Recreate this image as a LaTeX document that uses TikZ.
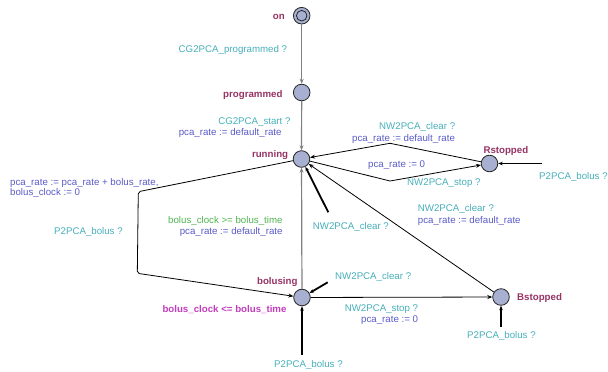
\documentclass[tikz,border=0pt]{standalone}
\usepackage{fontspec}
\setmainfont{Liberation Sans}
\usetikzlibrary{arrows.meta}
\definecolor{locfill}{RGB}{168,176,210}
\definecolor{locname}{RGB}{150,50,100}
\definecolor{synccol}{RGB}{70,175,185}
\definecolor{updcol}{RGB}{90,90,200}
\definecolor{guardcol}{RGB}{80,180,80}
\definecolor{invcol}{RGB}{195,60,190}
\definecolor{greyedge}{RGB}{128,128,128}
\begin{document}
\begin{tikzpicture}[x=1pt,y=-1pt,>={Stealth[length=5pt,width=4pt]}]
\tikzset{loc/.style={circle,draw=black!85,fill=locfill,minimum size=16.6pt,inner sep=0pt,line width=0.8pt},
  lbl/.style={inner sep=0pt,font=\fontsize{9.7}{9}\selectfont},
  lname/.style={lbl,text=locname,font=\fontsize{9.7}{9}\selectfont\bfseries},
  sync/.style={lbl,text=synccol},
  upd/.style={lbl,text=updcol},
  grd/.style={lbl,text=guardcol},
  inv/.style={lbl,text=invcol,font=\fontsize{9.7}{9}\selectfont\bfseries},
  edge/.style={->,line width=0.8pt},
  gedge/.style={->,line width=1.2pt,draw=greyedge},
  stub/.style={-{Stealth[length=4.5pt,width=3.5pt]},line width=1.8pt}}
\useasboundingbox (0,0) rectangle (608,372);
\node[loc] (on) at (301.7,15.7) {};
\draw[line width=0.8pt,draw=black!85] (on.center) circle (5.3);
\node[loc] (programmed) at (301.7,92.5) {};
\node[loc] (running) at (301.5,159) {};
\node[loc] (bolusing) at (302,297.5) {};
\node[loc] (Rstopped) at (489.5,163.5) {};
\node[loc] (Bstopped) at (501,297) {};
\node[lname,anchor=east] (lon) at (285,16.7) {on};
\node[lname,anchor=east] (lprogrammed) at (282.7,95) {programmed};
\node[lname,anchor=east] (lrunning) at (288.3,155) {running};
\node[lname,anchor=east] (lbolusing) at (297.7,282.3) {bolusing};
\node[lname,anchor=west] (lRstopped) at (483.3,150.7) {Rstopped};
\node[lname,anchor=west] (lBstopped) at (517,298) {Bstopped};
\node[inv,anchor=east] (invbolusing) at (286.7,310) {bolus\_clock <= bolus\_time};
\coordinate (rs1) at (390,181);
\coordinate (rs2) at (390,143.3);
\coordinate (rb1) at (138.3,191.7);
\coordinate (rb2) at (137.3,273.3);
\coordinate (pRstopped) at (542,163.5);
\coordinate (nRunning) at (328.3,212.3);
\coordinate (nBolusing) at (327.7,282.3);
\coordinate (pBolusing) at (302,355);
\coordinate (pBstopped) at (501,327);
\draw[gedge] (on) -- (programmed);
\draw[gedge] (programmed) -- (running);
\draw[gedge] (bolusing) -- (running);
\draw[edge] (running) -- (rs1) -- (Rstopped);
\draw[edge] (Rstopped) -- (rs2) -- (running);
\draw[edge,rounded corners=2pt] (running) -- (rb1) -- (rb2) -- (bolusing);
\draw[edge] (Bstopped) -- (running);
\draw[edge] (bolusing) -- (Bstopped);
\draw[stub] (pRstopped) -- (Rstopped);
\draw[stub] (nRunning) -- (running);
\draw[stub] (nBolusing) -- (bolusing);
\draw[stub] (pBolusing) -- (bolusing);
\draw[stub] (pBstopped) -- (Bstopped);
\node[sync,anchor=east] (sprog) at (287.3,50) {CG2PCA\_programmed ?};
\node[sync,anchor=east] (sstart) at (290.7,121.7) {CG2PCA\_start ?};
\node[upd,anchor=east] (ustart) at (281.7,133.3) {pca\_rate := default\_rate};
\node[sync,anchor=west] (sclearR) at (379,126.7) {NW2PCA\_clear ?};
\node[upd,anchor=west] (uclearR) at (352,139) {pca\_rate := default\_rate};
\node[upd,anchor=west] (ustopR) at (368,165) {pca\_rate := 0};
\node[sync,anchor=west] (sstopR) at (407,182.7) {NW2PCA\_stop ?};
\node[sync,anchor=west] (sbolusR) at (539,176.7) {P2PCA\_bolus ?};
\node[upd,anchor=west,align=left] (ubolus) at (10,187.8) {pca\_rate := pca\_rate + bolus\_rate,\\bolus\_clock := 0};
\node[sync,anchor=west] (sbolus) at (54,231.7) {P2PCA\_bolus ?};
\node[grd,anchor=east] (gdone) at (282.7,221) {bolus\_clock >= bolus\_time};
\node[upd,anchor=east] (udone) at (282.7,231.7) {pca\_rate := default\_rate};
\node[sync,anchor=west] (sclearRun) at (312.7,226.7) {NW2PCA\_clear ?};
\node[sync,anchor=west] (sclearB) at (417.7,209.3) {NW2PCA\_clear ?};
\node[upd,anchor=west] (uclearB) at (417.7,220.7) {pca\_rate := default\_rate};
\node[sync,anchor=west] (sclearBol) at (335,276.7) {NW2PCA\_clear ?};
\node[sync,anchor=east] (sstopB) at (418.3,309) {NW2PCA\_stop ?};
\node[upd,anchor=east] (ustopB) at (418.3,320.3) {pca\_rate := 0};
\node[sync,anchor=west] (sbolusBol) at (274,365) {P2PCA\_bolus ?};
\node[sync,anchor=west] (sbolusB) at (467,336.3) {P2PCA\_bolus ?};
\end{tikzpicture}
\end{document}
